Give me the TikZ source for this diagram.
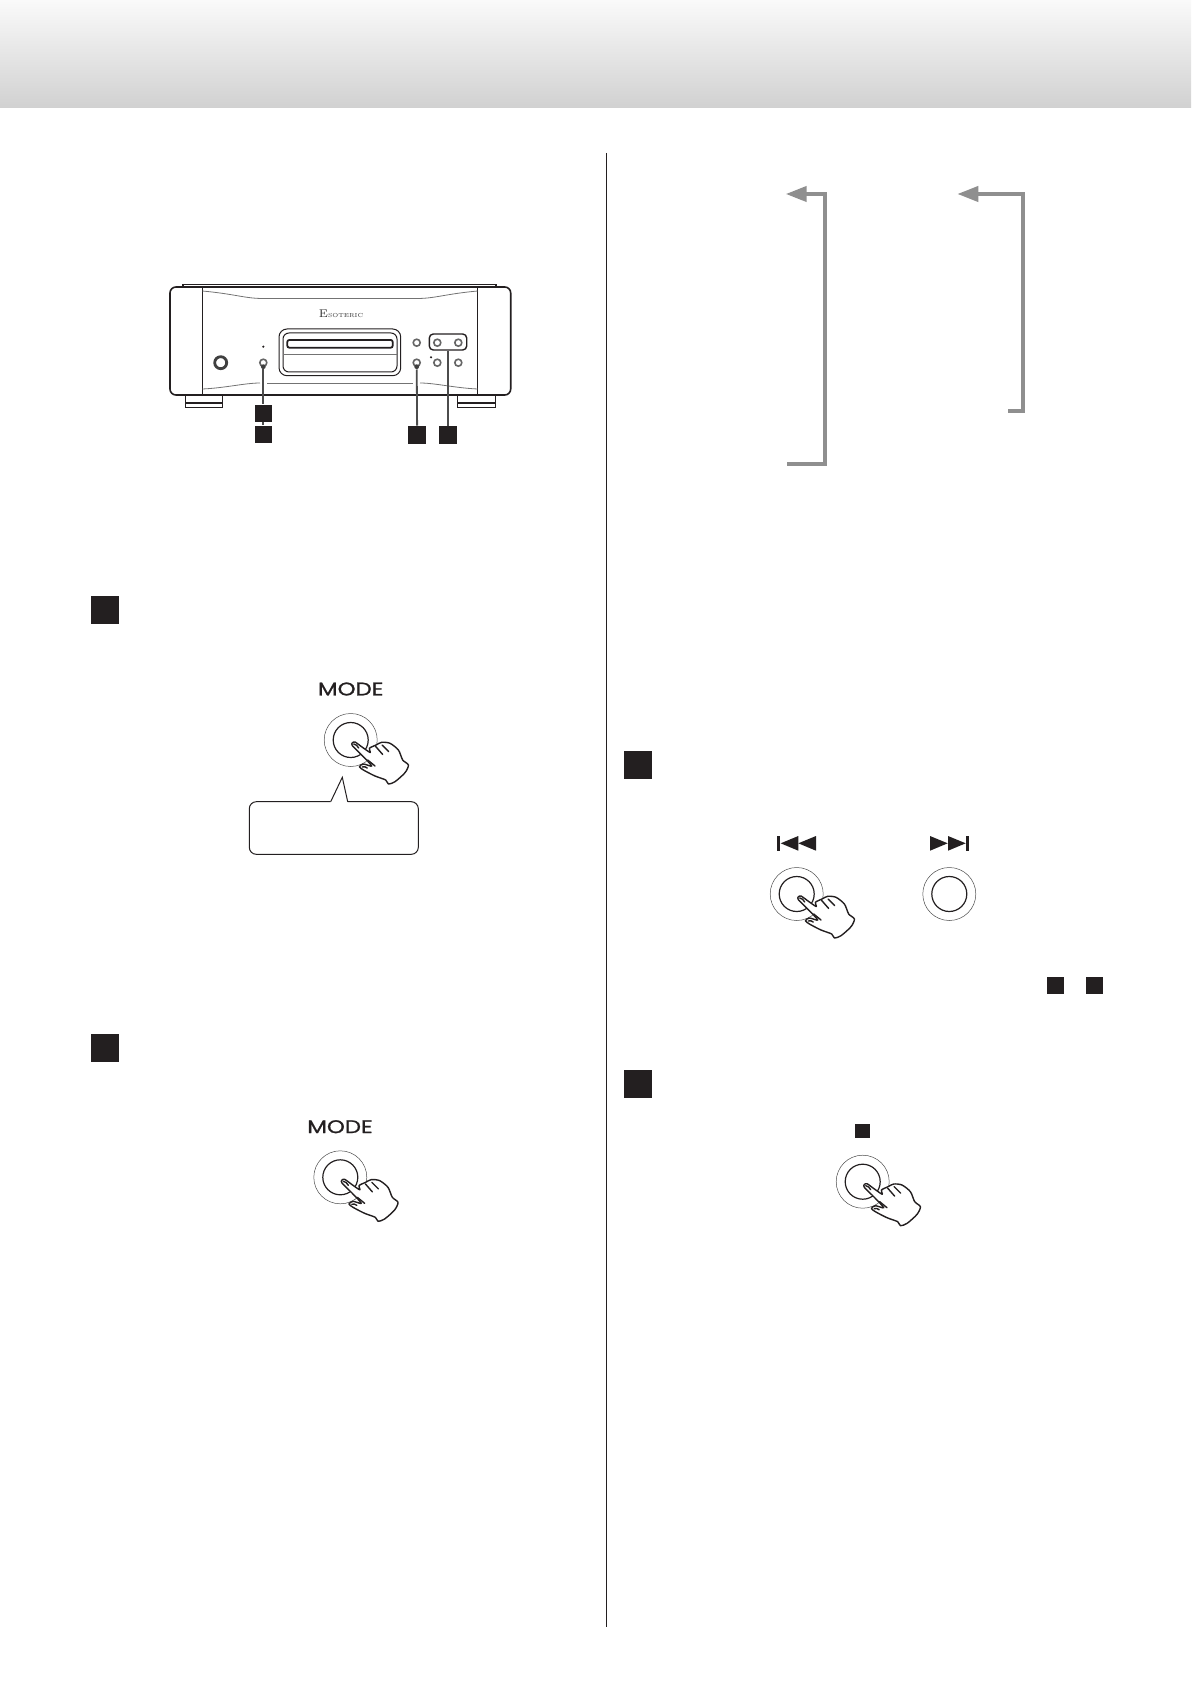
\documentclass[tikz,border=0pt]{standalone}
\usepackage{fontspec}
\usetikzlibrary{arrows.meta}
\newfontfamily\panelfont[FakeStretch=1.24,FakeBold=1.1]{Poppins}
\definecolor{keyblack}{HTML}{231F20}
\definecolor{arrowgrey}{HTML}{8F8F8F}
\tikzset{
	keybox/.style={fill=keyblack,inner sep=0pt,minimum size=#1},
	keybox/.default=14pt,
	outerring/.style={circle,draw=black!70,line width=.25pt,inner sep=0pt,minimum size=26.5pt},
	innerring/.style={circle,draw=keyblack,line width=.6pt,inner sep=0pt,minimum size=17.5pt},
	smallkey/.style={circle,draw=black!60,line width=.8pt,inner sep=0pt,minimum size=3.5pt},
	tinydot/.style={circle,fill=keyblack,inner sep=0pt,minimum size=1.2pt},
	modelabel/.style={font=\panelfont\fontsize{9.2}{10}\selectfont,text=keyblack,inner sep=0pt},
	bodyline/.style={draw=keyblack,line width=.5pt},
	softline/.style={draw=black!55,line width=.4pt},
	leaderline/.style={draw=black!70,line width=.9pt},
	greyarrow/.style={draw=arrowgrey,line width=2pt,-{Triangle[length=10.5pt,width=7.5pt]}},
	handline/.style={draw=keyblack,line width=.7pt,line join=round,line cap=round}
}
\newcommand{\pushhand}[2]{
	\begin{scope}[shift={(#1,#2)}]
		\draw[handline,fill=white] plot[smooth cycle,tension=.45] coordinates {(4.3,2) (12,7.5) (19.5,12.5) (18.7,8.3) (25.3,5) (31,2.3) (39.3,3.3) (47.7,10) (52,20) (57.7,25) (54.3,32.7) (44.3,41.7) (37.7,44) (35,40) (24.3,36) (12.7,30) (8.7,26.7) (12.7,24) (21,26) (12,16) (1.7,5.7) (1.5,3)};
		\draw[handline] (17,20) -- (24.3,26);
		\draw[handline] (25,6.5) -- (32,14.5);
		\draw[handline] (31.5,5) -- (38,11.5);
		\draw[handline] (3,4) .. controls (5,4) and (7,6) .. (8,8);
		\draw[handline] (11.5,27) .. controls (13,26) and (15,27) .. (16.5,28);
	\end{scope}
}
\begin{document}
\begin{tikzpicture}[x=.5pt,y=-.5pt]
	\useasboundingbox (0,0) rectangle (1191,1684);
	\shade[top color=black!2,bottom color=black!18] (0,0) rectangle (1191,107.5);
	\coordinate (ruleTop) at (606.5,153);
	\coordinate (ruleEnd) at (606.5,1627);
	\draw[keyblack,line width=.5pt] (ruleTop) -- (ruleEnd);

	\draw[bodyline,line width=.8pt] (183,287) -- (183,284.7) -- (496,284.7) -- (496,287);
	\draw[bodyline,line width=.8pt,rounded corners=3pt] (170,287) rectangle (510.7,395);
	\draw[bodyline] (202.3,287) -- (202.3,395);
	\draw[bodyline] (477.7,287) -- (477.7,395);
	\draw[softline] (202.3,291) .. controls (235,294) and (245,298.5) .. (263,298.5) -- (417,298.5) .. controls (435,298.5) and (445,294) .. (477.7,291);
	\draw[softline] (202.3,389) .. controls (225,388) and (245,383) .. (260,383);
	\draw[softline] (267,383) -- (413,383);
	\draw[softline] (420,383) .. controls (435,383) and (455,388) .. (477.7,389);
	\draw[bodyline] (185,395) -- (185,408) -- (222.7,408) -- (222.7,395);
	\draw[bodyline,line width=1.1pt] (185,403) -- (222.7,403);
	\draw[bodyline] (457,395) -- (457,408) -- (495,408) -- (495,395);
	\draw[bodyline,line width=1.1pt] (457,403) -- (495,403);

	\node[inner sep=0pt,text=black!80,font=\fontsize{2.9}{3}\selectfont] (logo) at (341,314) {{\fontsize{5.6}{6}\selectfont E}SOTERIC};

	\draw[bodyline,rounded corners=4pt] (279,329) rectangle (400.7,375.7);
	\draw[bodyline,rounded corners=3pt] (283,333) rectangle (397,372);
	\draw[bodyline,line width=.9pt,rounded corners=1pt] (287.3,340) rectangle (392.7,347.7);
	\draw[softline] (283,354) -- (397,354);
	\node[circle,draw=black!75,line width=1.4pt,inner sep=0pt,minimum size=6pt] (phones) at (220.7,362.7) {};
	\node[smallkey] (keyA) at (263.3,362.7) {};
	\node[smallkey] (keyB) at (416.7,342.7) {};
	\node[smallkey] (keyC) at (416.7,362.7) {};
	\node[smallkey] (keyD) at (437.3,342.7) {};
	\node[smallkey] (keyE) at (458.3,342.7) {};
	\node[smallkey] (keyF) at (437.3,362.7) {};
	\node[smallkey] (keyG) at (458.3,362.7) {};
	\node[tinydot] (dotA) at (263.3,346.7) {};
	\node[tinydot] (dotB) at (431,357.3) {};
	\node[rectangle,rounded corners=2pt,draw=keyblack,line width=.7pt,inner sep=0pt,minimum width=18.7pt,minimum height=8pt] (skipbox) at (448,342) {};
	\node[keybox=8.4pt] (sqA) at (263.3,413.3) {};
	\node[keybox=8.8pt] (sqB) at (263.3,434.7) {};
	\node[keybox=8.8pt] (sqC) at (417.2,434.8) {};
	\node[keybox=8.8pt] (sqD) at (447.8,434.8) {};
	\node[circle,fill=black!75,inner sep=0pt,minimum size=2.4pt] (pinA) at (263.3,366.7) {};
	\node[circle,fill=black!75,inner sep=0pt,minimum size=2.4pt] (pinC) at (416.7,366.7) {};
	\draw[leaderline] (pinA) -- (sqA);
	\draw[leaderline] (sqA) -- (sqB);
	\draw[leaderline] (pinC) -- (sqC);
	\draw[leaderline] (skipbox.south -| sqD) -- (sqD);

	\node[keybox] (stepA) at (105,610) {};
	\node[modelabel] (modeA) at (350.7,689) {MODE};
	\node[outerring] (ringA) at (350.7,740) {};
	\node[innerring] (btnA) at (350.7,740) {};
	\pushhand{350.7}{740}
	\draw[keyblack,line width=.5pt,rounded corners=3.5pt] (330.7,801.7) -- (249.3,801.7) -- (249.3,854.3) -- (418.3,854.3) -- (418.3,801.7) -- (347.7,801.7);
	\draw[keyblack,line width=.5pt] (330.7,801.7) -- (342.3,777.3) -- (347.7,801.7);

	\node[keybox] (stepB) at (105,1048) {};
	\node[modelabel] (modeB) at (340,1126.7) {MODE};
	\node[outerring] (ringB) at (340.3,1177.3) {};
	\node[innerring] (btnB) at (340.3,1177.3) {};
	\pushhand{340.3}{1177.3}

	\coordinate (tailL) at (787,464);
	\coordinate (lowL) at (825,464);
	\coordinate (highL) at (825,194);
	\coordinate (tipL) at (785.7,194);
	\draw[greyarrow] (tailL) -- (lowL) -- (highL) -- (tipL);
	\coordinate (tailR) at (1008,410.7);
	\coordinate (lowR) at (1022.7,410.7);
	\coordinate (highR) at (1022.7,194);
	\coordinate (tipR) at (957.3,194);
	\draw[greyarrow] (tailR) -- (lowR) -- (highR) -- (tipR);

	\node[keybox] (stepC) at (638,764.7) {};
	\fill[keyblack] (776.7,836) rectangle (780,850.7);
	\fill[keyblack] (780.7,843.3) -- (798.3,836) -- (798.3,850.7) -- cycle;
	\fill[keyblack] (798.3,843.3) -- (816,836) -- (816,850.7) -- cycle;
	\fill[keyblack] (930,836) -- (947.7,843.3) -- (930,850.7) -- cycle;
	\fill[keyblack] (948,836) -- (965.7,843.3) -- (948,850.7) -- cycle;
	\fill[keyblack] (966,836) rectangle (969.3,850.7);
	\node[outerring] (ringC) at (796.7,894) {};
	\node[innerring] (btnC) at (796.7,894) {};
	\pushhand{796.7}{894}
	\node[outerring] (ringD) at (949.3,894) {};
	\node[innerring] (btnD) at (949.3,894) {};
	\node[keybox=8.4pt] (refA) at (1055.3,985.3) {};
	\node[keybox=8.4pt] (refB) at (1094.3,985.3) {};

	\node[keybox] (stepD) at (638,1084) {};
	\node[keybox=7.4pt] (stopmark) at (862.5,1131) {};
	\node[outerring] (ringE) at (862.7,1181.7) {};
	\node[innerring] (btnE) at (862.7,1181.7) {};
	\pushhand{862.7}{1181.7}
\end{tikzpicture}
\end{document}
